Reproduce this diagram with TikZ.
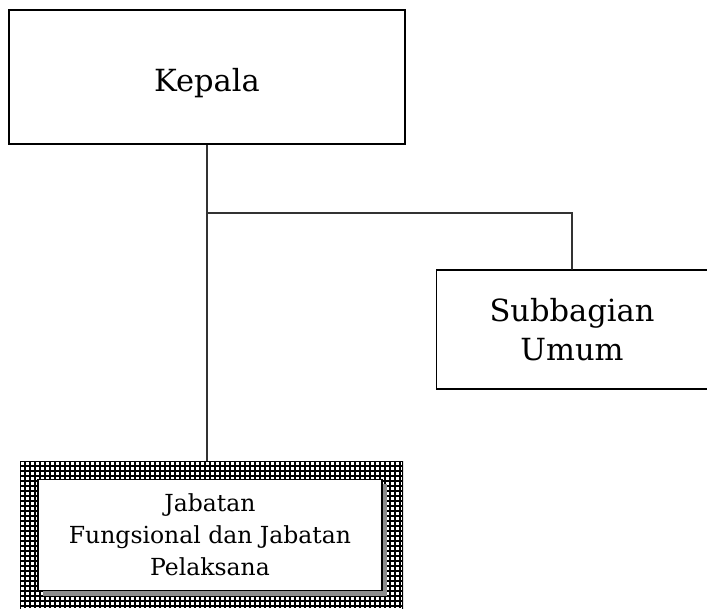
\documentclass[tikz,border=0pt]{standalone}
\usepackage{fontspec}
\setmainfont{DejaVu Serif}
\begin{document}
\begin{tikzpicture}[x=1pt,y=-1pt,
  box/.style={draw=black,line width=1.9pt,fill=white,inner sep=0pt,align=center},
  conn/.style={draw=black!80,line width=1.4pt}]
\useasboundingbox (0,0) rectangle (707,608);
% Kepala
\node[box,minimum width=396pt,minimum height=134pt,text height=28pt,text depth=0pt,font=\fontsize{30.5}{34}\selectfont] (kepala) at (207,77) {Kepala};
% Subbagian
\node[box,minimum width=271pt,minimum height=119pt,font=\fontsize{30.5}{39}\selectfont] (sub) at (572,329.5) {Subbagian\\Umum};
% hatched outer box
\begin{scope}
\clip (20,461) rectangle (403,608);
\fill[white] (20,461) rectangle (403,608);
\foreach \i in {0,...,77} {\draw[line width=1.3pt] (20+5*\i,461) -- (20+5*\i,608);}
\foreach \j in {0,...,30} {\draw[line width=1.3pt] (20,461+5*\j) -- (403,461+5*\j);}
\draw[line width=2.4pt] (20,461) rectangle (403,640);
\end{scope}
\coordinate (outertop) at (211.5,461);
% inner box with shadow
\fill[black!45] (43,484) rectangle (387,596);
\node[box,line width=1.4pt,minimum width=344pt,minimum height=111pt,font=\fontsize{23.5}{32}\selectfont] (jab) at (210,535) {Jabatan\\Fungsional dan Jabatan\\Pelaksana};
% connectors
\coordinate (junc) at (kepala.south |- 0,213);
\draw[conn] (kepala.south) -- (kepala.south |- outertop);
\draw[conn,line cap=round] (junc) -- (sub.north |- junc) -- (sub.north);
\end{tikzpicture}
\end{document}
